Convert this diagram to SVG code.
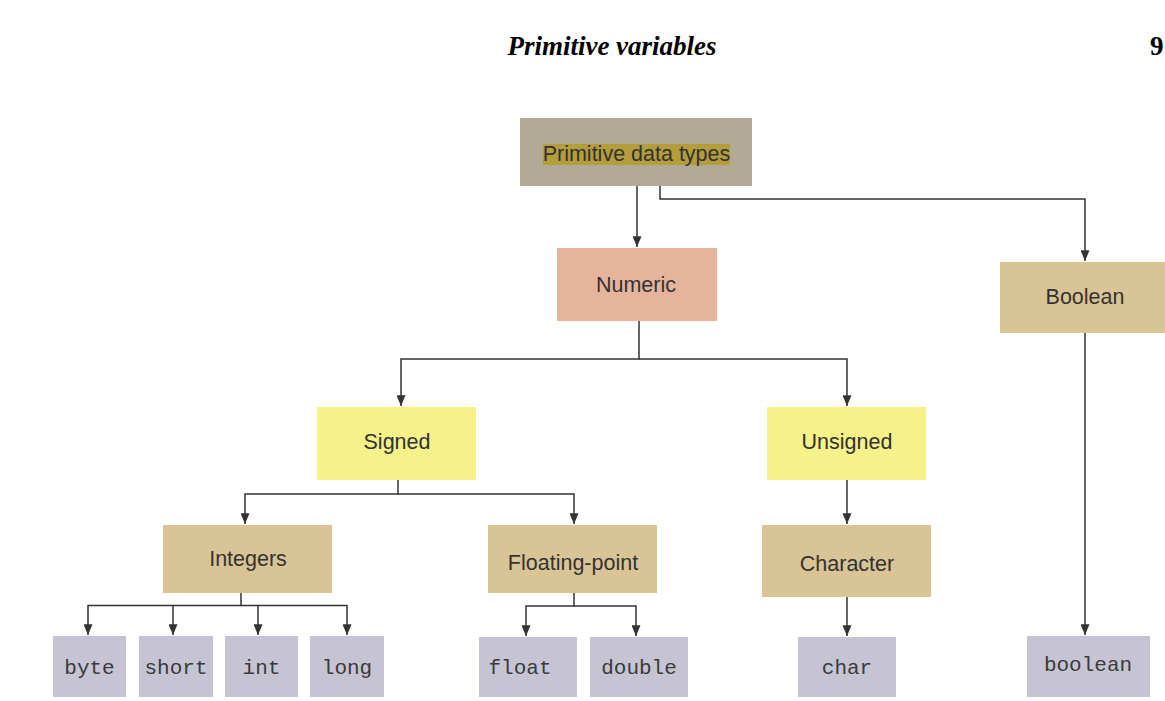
<svg xmlns="http://www.w3.org/2000/svg" width="1165" height="701" viewBox="0 0 1165 701">
<defs>
<marker id="ah" viewBox="0 0 12 10" refX="12" refY="5" markerWidth="11" markerHeight="9" markerUnits="userSpaceOnUse" orient="auto">
<path d="M0,0 L12,5 L0,10 Z" fill="#333"/>
</marker>
</defs>
<style>
.lbl{font-family:"Liberation Sans",Arial,sans-serif;font-size:21.5px;fill:#333;text-anchor:middle}
.mono{font-family:"Liberation Mono","Courier New",monospace;font-size:21px;fill:#3a3a3a;text-anchor:middle}
.c{fill:none;stroke:#333;stroke-width:1.5}
.tan{fill:#d8c495}
.leaf{fill:#c6c4d2}
</style>
<rect width="1165" height="701" fill="#fff"/>
<text x="612" y="55" font-family="'Liberation Serif','Times New Roman',serif" font-size="27" font-weight="bold" font-style="italic" text-anchor="middle" fill="#000">Primitive variables</text>
<text x="1150" y="55" font-family="'Liberation Serif','Times New Roman',serif" font-size="27" font-weight="bold" fill="#000">9</text>

<g id="connectors">
<path class="c" d="M637,186 V247" marker-end="url(#ah)"/>
<path class="c" d="M660,186 V199 H1085 V261" marker-end="url(#ah)"/>
<path class="c" d="M639,321 V359 H401 V406" marker-end="url(#ah)"/>
<path class="c" d="M639,359 H847 V406" marker-end="url(#ah)"/>
<path class="c" d="M398,480 V494 H245 V524" marker-end="url(#ah)"/>
<path class="c" d="M398,494 H574 V524" marker-end="url(#ah)"/>
<path class="c" d="M847,480 V524" marker-end="url(#ah)"/>
<path class="c" d="M241,593 V605.5 H88 V635" marker-end="url(#ah)"/>
<path class="c" d="M173,605.5 V635" marker-end="url(#ah)"/>
<path class="c" d="M258,605.5 V635" marker-end="url(#ah)"/>
<path class="c" d="M241,605.5 H347 V635" marker-end="url(#ah)"/>
<path class="c" d="M574,593 V606 H526 V636" marker-end="url(#ah)"/>
<path class="c" d="M574,606 H636 V636" marker-end="url(#ah)"/>
<path class="c" d="M847,597 V636" marker-end="url(#ah)"/>
<path class="c" d="M1085,333 V635" marker-end="url(#ah)"/>
</g>

<g id="primitive">
<rect x="520" y="118" width="232" height="68" fill="#b0aa96"/>
<rect x="543" y="144" width="187" height="21" fill="#b49d3b"/>
<text class="lbl" x="636.5" y="161">Primitive data types</text>
</g>
<g id="numeric">
<rect x="557" y="248" width="160" height="73" fill="#e6b49c"/>
<text class="lbl" x="636" y="292">Numeric</text>
</g>
<g id="boolean-cat">
<rect class="tan" x="1000" y="262" width="170" height="71"/>
<text class="lbl" x="1085" y="304">Boolean</text>
</g>
<g id="signed">
<rect x="317" y="407" width="159" height="73" fill="#f7f18a"/>
<text class="lbl" x="397" y="449">Signed</text>
</g>
<g id="unsigned">
<rect x="767" y="407" width="159" height="73" fill="#f7f18a"/>
<text class="lbl" x="847" y="449">Unsigned</text>
</g>
<g id="integers">
<rect class="tan" x="163" y="525" width="169" height="68"/>
<text class="lbl" x="248" y="566">Integers</text>
</g>
<g id="floating">
<rect class="tan" x="488" y="525" width="169" height="68"/>
<text class="lbl" x="573" y="570">Floating-point</text>
</g>
<g id="character">
<rect class="tan" x="762" y="525" width="169" height="72"/>
<text class="lbl" x="847" y="571">Character</text>
</g>
<g id="byte">
<rect class="leaf" x="53" y="636" width="73" height="61"/>
<text class="mono" x="89.5" y="674">byte</text>
</g>
<g id="short">
<rect class="leaf" x="139" y="636" width="74" height="61"/>
<text class="mono" x="176" y="674">short</text>
</g>
<g id="int">
<rect class="leaf" x="225" y="636" width="73" height="61"/>
<text class="mono" x="261.5" y="674">int</text>
</g>
<g id="long">
<rect class="leaf" x="310" y="636" width="74" height="61"/>
<text class="mono" x="347" y="674">long</text>
</g>
<g id="float">
<rect class="leaf" x="479" y="637" width="98" height="60"/>
<text class="mono" x="520" y="674">float</text>
</g>
<g id="double">
<rect class="leaf" x="590" y="637" width="98" height="60"/>
<text class="mono" x="639" y="674">double</text>
</g>
<g id="char">
<rect class="leaf" x="798" y="637" width="98" height="60"/>
<text class="mono" x="847" y="674">char</text>
</g>
<g id="boolean">
<rect class="leaf" x="1027" y="636" width="123" height="61"/>
<text class="mono" x="1088" y="671">boolean</text>
</g>
</svg>
